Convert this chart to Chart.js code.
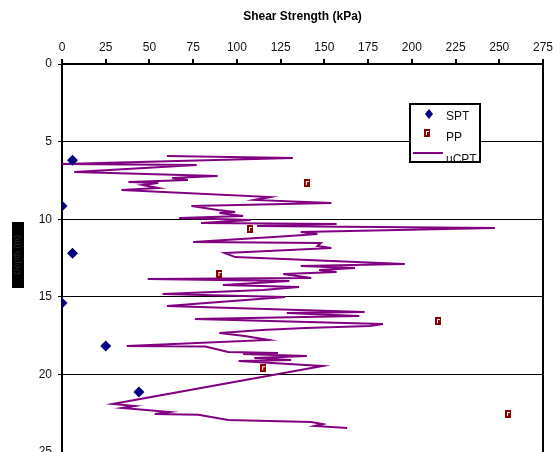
<!DOCTYPE html>
<html>
<head>
<meta charset="utf-8">
<script src="https://cdn.jsdelivr.net/npm/chart.js@4.4.0/dist/chart.umd.min.js"></script>
<style>
  html, body { margin: 0; padding: 0; background: #fff; overflow: hidden; }
</style>
</head>
<body>
<canvas id="myChart" width="558" height="470"></canvas>
<script>
// tick labels
const strengthTicks = [0, 25, 50, 75, 100, 125, 150, 175, 200, 225, 250, 275];
const depthTicks = [0, 5, 10, 15, 20, 25];

// SPT
const sptStrength = [6, 0, 6, 0, 25, 44];
const sptDepth = [6.2, 9.15, 12.2, 15.4, 18.17, 21.13];

// PP
const ppStrength = [140, 107.5, 90, 215, 115, 255];
const ppDepth = [7.67, 10.63, 13.53, 16.56, 19.6, 22.55];

// uCPT
const cptStrength = [60, 132, 0, 77, 7, 89, 63, 72, 38, 55, 46, 55, 34, 119, 110, 154, 74, 89, 99, 90, 103.5, 67, 108, 79.5, 157, 111.5, 247.5,
  136.5, 146, 130, 75, 148, 146, 154, 130, 93, 99, 196, 136.5, 167.5, 147, 157, 126.5, 142.5, 49, 130, 92, 135.5, 115, 57.5, 127.5,
  60, 173, 128.5, 170, 76, 183.5, 176, 139, 114.5, 90, 104.5, 118, 37, 82, 95, 123.5, 103.5, 140, 110, 131, 101, 149,
  29, 41.5, 34.5, 61.5, 53, 78, 95, 142.5, 149, 144.5, 163];
const cptDepth = [5.93, 6.06, 6.44, 6.51, 6.96, 7.22, 7.35, 7.47, 7.6, 7.67, 7.8, 7.99, 8.12, 8.57, 8.76, 8.96, 9.15, 9.41, 9.54, 9.6, 9.79, 9.92, 10.05, 10.24, 10.31, 10.44, 10.57,
  10.82, 10.95, 11.08, 11.47, 11.53, 11.73, 11.86, 11.98, 12.18, 12.44, 12.89, 13.02, 13.14, 13.27, 13.4, 13.53, 13.79, 13.85, 13.98, 14.24, 14.37, 14.56, 14.82, 15.01,
  15.59, 15.98, 16.04, 16.24, 16.43, 16.75, 16.88, 17.01, 17.14, 17.33, 17.53, 17.78, 18.17, 18.2, 18.56, 18.62, 18.69, 18.81, 18.94, 19.07, 19.14, 19.46,
  21.91, 22.04, 22.16, 22.42, 22.55, 22.6, 22.94, 23.07, 23.2, 23.32, 23.45];

const toXY = (xs, ys) => xs.map((v, i) => ({ x: v, y: ys[i] }));

// PP marker: dark red block with a small white mark
const ppIcon = document.createElement('canvas');
ppIcon.width = 6;
ppIcon.height = 8;
const pc = ppIcon.getContext('2d');
pc.fillStyle = '#880000';
pc.fillRect(0, 0, 6, 8);
pc.fillStyle = '#fff';
pc.fillRect(2, 2, 1, 4);
pc.fillRect(2, 2, 3, 1);

const FONT = "'Liberation Sans', Arial, sans-serif";

const extras = {
  id: 'extras',
  afterDraw(chart) {
    const ctx = chart.ctx;
    const a = chart.chartArea;
    ctx.save();
    // right frame
    ctx.strokeStyle = '#000';
    ctx.lineWidth = 2;
    ctx.beginPath();
    ctx.moveTo(a.right, a.top - 1);
    ctx.lineTo(a.right, a.bottom);
    ctx.stroke();

    // legend box
    const bx = 410, by = 104, bw = 70, bh = 58;
    ctx.fillStyle = '#fff';
    ctx.fillRect(bx, by, bw, bh);
    ctx.save();
    ctx.beginPath();
    ctx.rect(bx, by, bw, bh);
    ctx.clip();
    ctx.fillStyle = '#000080';
    ctx.beginPath();
    ctx.moveTo(429, 109);
    ctx.lineTo(433, 114);
    ctx.lineTo(429, 119);
    ctx.lineTo(425, 114);
    ctx.closePath();
    ctx.fill();
    ctx.drawImage(ppIcon, 424, 129);
    ctx.strokeStyle = '#800080';
    ctx.lineWidth = 2;
    ctx.beginPath();
    ctx.moveTo(413, 153);
    ctx.lineTo(443, 153);
    ctx.stroke();
    ctx.fillStyle = '#111';
    ctx.font = '12px ' + FONT;
    ctx.textBaseline = 'middle';
    ctx.fillText('SPT', 446, 117);
    ctx.fillText('PP', 446, 138);
    ctx.fillText('uCPT', 446, 160);
    ctx.restore();
    ctx.strokeStyle = '#000';
    ctx.lineWidth = 2;
    ctx.strokeRect(bx, by, bw, bh);

    // y axis title (rendered as a dark block in the original)
    ctx.fillStyle = '#000';
    ctx.fillRect(12, 222, 12, 66);
    ctx.translate(18, 255);
    ctx.rotate(-Math.PI / 2);
    ctx.fillStyle = '#2a2a2a';
    ctx.font = '9px ' + FONT;
    ctx.textAlign = 'center';
    ctx.textBaseline = 'middle';
    ctx.fillText('Depth (m)', 0, 0);
    ctx.restore();
  }
};

const plot = new Chart(document.getElementById('myChart'), {
  type: 'scatter',
  data: {
    datasets: [{
      label: 'SPT',
      data: toXY(sptStrength, sptDepth),
      pointStyle: 'rectRot',
      pointRadius: 5.5,
      backgroundColor: '#000080',
      borderColor: '#000080',
      borderWidth: 0
    }, {
      label: 'PP',
      data: toXY(ppStrength, ppDepth),
      pointStyle: ppIcon,
      pointRadius: 4
    }, {
      label: 'uCPT',
      data: toXY(cptStrength, cptDepth),
      showLine: true,
      borderColor: '#800080',
      borderWidth: 2,
      pointRadius: 0,
      tension: 0
    }]
  },
  options: {
    responsive: false,
    animation: false,
    layout: { padding: { left: 0, top: 0, right: 15, bottom: 18 } },
    plugins: {
      legend: { display: false },
      tooltip: { enabled: false }
    },
    scales: {
      x: {
        type: 'linear',
        position: 'top',
        min: 0,
        max: 275,
        afterBuildTicks: s => { s.ticks = strengthTicks.map(v => ({ value: v })); },
        afterFit: s => { s.height = 64; },
        ticks: { autoSkip: false, maxRotation: 0, padding: 4, color: '#111', font: { family: FONT, size: 12 } },
        grid: { drawOnChartArea: false, drawTicks: true, tickLength: 5, color: '#000', lineWidth: 2 },
        border: { display: true, color: '#000', width: 2 },
        title: {
          display: true,
          text: 'Shear Strength (kPa)',
          color: '#000',
          padding: { top: 9, bottom: 0 },
          font: { family: FONT, size: 12, weight: 'bold' }
        }
      },
      y: {
        type: 'linear',
        reverse: true,
        min: 0,
        max: 25,
        afterBuildTicks: s => { s.ticks = depthTicks.map(v => ({ value: v })); },
        afterFit: s => { s.width = 62; },
        ticks: { padding: 6, color: '#111', font: { family: FONT, size: 12 } },
        grid: { drawOnChartArea: true, drawTicks: true, tickLength: 4, color: '#000', lineWidth: 1 },
        border: { display: true, color: '#000', width: 2 },
        title: { display: false }
      }
    }
  },
  plugins: [extras]
});
</script>
</body>
</html>
